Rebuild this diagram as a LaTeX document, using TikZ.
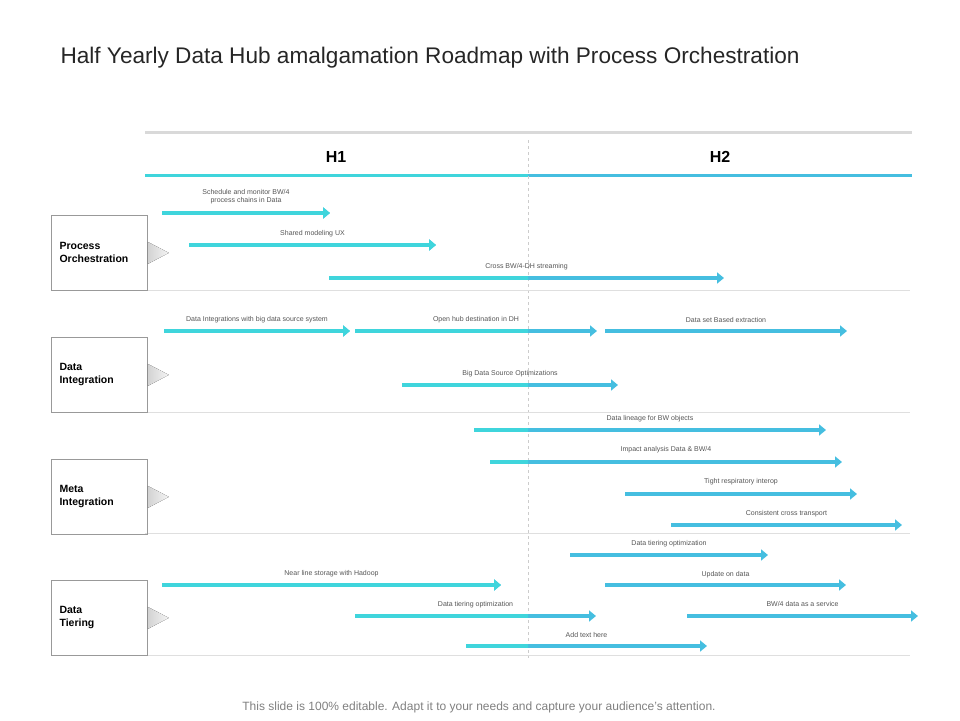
\documentclass[tikz,border=0pt]{standalone}
\usepackage{fontspec}
\setmainfont{Liberation Sans}
\usetikzlibrary{arrows.meta}
\definecolor{hcyan}{HTML}{3FD5DC}
\definecolor{hblue}{HTML}{45BEE0}
\definecolor{txtgray}{HTML}{555555}
\begin{document}
\begin{tikzpicture}[
        x=1pt, y=-1pt,
        every node/.style={font=\fontsize{7}{8}\selectfont, text=txtgray},
        rowbox/.style={draw=gray!80, line width=0.8pt, minimum width=96pt, minimum height=75pt, anchor=north west},
        rowlabel/.style={font=\fontsize{10.5}{13}\selectfont\bfseries, text=black, align=left, anchor=west},
        bar/.style={line width=4pt, -{Triangle[width=11pt,length=7pt]}},
        sep/.style={gray!25, line width=0.8pt}
    ]
        \useasboundingbox (0,0) rectangle (960,720);

        % Titolo
        \node[anchor=west, font=\fontsize{22.6}{26}\selectfont, text=black!85] (title) at (57,58) {Half Yearly Data Hub amalgamation Roadmap with Process Orchestration};

        % Intestazione
        \draw[gray!30, line width=3pt] (145,132) -- (912,132);
        \node[font=\fontsize{16}{19}\selectfont\bfseries, text=black] (h1) at (336,157) {H1};
        \node[font=\fontsize{16}{19}\selectfont\bfseries, text=black] (h2) at (720,157) {H2};
        \draw[hcyan, line width=3pt] (145,175) -- (528,175);
        \draw[hblue, line width=3pt] (528,175) -- (912,175);
        \draw[gray!40, dashed, line width=0.6pt] (528,140) -- (528,658);

        % Separatori
        \foreach \y in {290,412,533,655}
            \draw[sep] (145,\y) -- (910,\y);

        % Righe
        \foreach \y/\lab/\n in {215/{Process\\Orchestration}/po, 337/{Data\\Integration}/di, 459/{Meta\\Integration}/mi, 580/{Data\\Tiering}/dt} {
            \node[rowbox] (\n) at (51,\y) {};
            \node[rowlabel] at ([xshift=5pt]\n.west) {\lab};
            \fill[left color=gray!35, right color=gray!8] ([yshift=-11pt]\n.east) -- ([xshift=21pt]\n.east) -- ([yshift=11pt]\n.east) -- cycle;
        }

        % Attivita
        \foreach \i/\y/\xa/\xb/\lab/\ly in {
            1/213/162/330/{Schedule and monitor BW/4\\process chains in Data}/197,
            2/245/189/436/{Shared modeling UX}/234,
            3/278/329/724/{Cross BW/4-DH streaming}/267,
            4/331/164/350/{Data Integrations with big data source system}/320,
            5/331/355/597/{Open hub destination in DH}/320,
            6/331/605/847/{Data set Based extraction}/320,
            7/385/402/618/{Big Data Source Optimizations}/374,
            8/430/474/826/{Data lineage for BW objects}/419,
            9/462/490/842/{Impact analysis Data \& BW/4}/450,
            10/494/625/857/{Tight respiratory interop}/482,
            11/525/671/902/{Consistent cross transport}/514,
            12/555/570/768/{Data tiering optimization}/544,
            13/585/162/501/{Near line storage with Hadoop}/574,
            14/585/605/846/{Update on data}/575,
            15/616/355/596/{Data tiering optimization}/605,
            16/616/687/918/{BW/4 data as a service}/604,
            17/646/466/707/{Add text here}/635} {
            \coordinate (s\i) at (\xa,\y);
            \coordinate (e\i) at (\xb,\y);
            \draw[bar, hblue] (s\i) -- (e\i);
            \begin{scope}
                \clip (0,0) rectangle (528,720);
                \draw[bar, hcyan] (s\i) -- (e\i);
            \end{scope}
            \node[align=center] (t\i) at ({(\xa+\xb)/2},\ly) {\lab};
        }

        % Nota
        \node[font=\fontsize{12}{14}\selectfont, text=gray] (foot) at (479,707) {This slide is 100\% editable. Adapt it to your needs and capture your audience's attention.};

    \end{tikzpicture}
\end{document}
